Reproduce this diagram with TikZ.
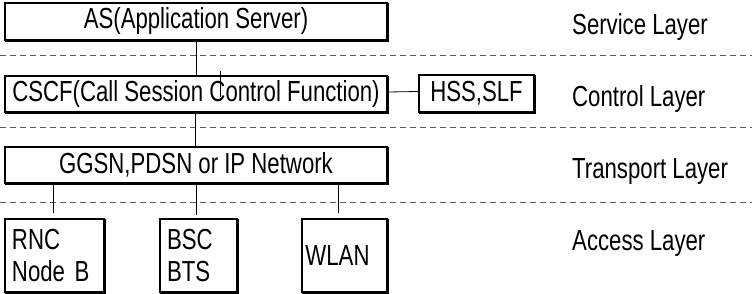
\documentclass[tikz,border=0pt]{standalone}
\usepackage{fontspec}
\setmainfont{Liberation Sans}[FakeStretch=0.765]
\begin{document}
\begin{tikzpicture}[x=1pt,y=-1pt,
  box/.style={draw,line width=1.4pt,inner sep=0pt,font=\fontsize{29}{32}\selectfont},
  lbl/.style={anchor=base west,inner sep=0pt,font=\fontsize{29}{32}\selectfont},
  sep/.style={draw=black!65,line width=0.8pt,dash pattern=on 6pt off 4pt},
  conn/.style={draw,line width=0.8pt}]
\useasboundingbox (0,0) rectangle (752,294);
% boxes
\node[box,minimum width=382pt,minimum height=37pt] (as) at (196,21.5) {AS(Application Server)};
\node[box,minimum width=382pt,minimum height=36pt] (cscf) at (196,94) {CSCF(Call Session Control Function)};
\node[box,minimum width=115pt,minimum height=37pt] (hss) at (476.5,93.5) {HSS,SLF};
\node[box,minimum width=382pt,minimum height=36pt] (ggsn) at (196,165) {GGSN,PDSN or IP Network};
\node[box,minimum width=99pt,minimum height=73pt,text width=85pt,inner xsep=7pt,align=left] (rnc) at (54.5,255.5) {RNC\\Node B};
\node[box,minimum width=77pt,minimum height=73pt,text width=63pt,inner xsep=7pt,align=left] (bsc) at (198.5,255.5) {BSC\\BTS};
\node[box,minimum width=85pt,minimum height=73pt] (wlan) at (344.5,255.5) {\hspace*{-14pt}\raisebox{-2pt}{WLAN}};
% shadow edges
\foreach \n in {as,cscf,hss,ggsn,rnc,bsc,wlan}{
  \draw[line width=1.4pt,line cap=rect] ([xshift=1pt,yshift=-1pt]\n.south west) -- ([xshift=1pt,yshift=-1pt]\n.south east) -- ([xshift=1pt,yshift=-1pt]\n.north east);
}
% separators
\coordinate (l1) at (0,55); \coordinate (r1) at (752,55);
\coordinate (l2) at (0,127); \coordinate (r2) at (752,127);
\coordinate (l3) at (0,202); \coordinate (r3) at (752,202);
\path[sep] (l1) -- (r1);
\path[sep] (l2) -- (r2);
\path[sep] (l3) -- (r3);
% connectors
\path[conn] (as.south) -- (cscf.north);
\coordinate (tick) at (220,71);
\path[conn] (tick) -- ++(0,26);
\path[conn] ([yshift=2pt]cscf.east) -- ([yshift=2pt]hss.west);
\path[conn] ([xshift=-1pt]cscf.south) -- ([xshift=-1pt]ggsn.north);
\path[conn] ([xshift=-1.5pt]rnc.north |- ggsn.south) -- ([xshift=-1.5pt,yshift=5pt]rnc.north);
\path[conn] ([xshift=-2.5pt]bsc.north |- ggsn.south) -- ([xshift=-2.5pt,yshift=3pt]bsc.north);
\path[conn] ([xshift=-6.5pt]wlan.north |- ggsn.south) -- ([xshift=-6.5pt,yshift=5pt]wlan.north);
% layer labels
\node[lbl] (sl) at (572,35) {Service Layer};
\node[lbl] (cl) at (572,107) {Control Layer};
\node[lbl] (tl) at (572,178) {Transport Layer};
\node[lbl] (al) at (572,250) {Access Layer};
\end{tikzpicture}
\end{document}
